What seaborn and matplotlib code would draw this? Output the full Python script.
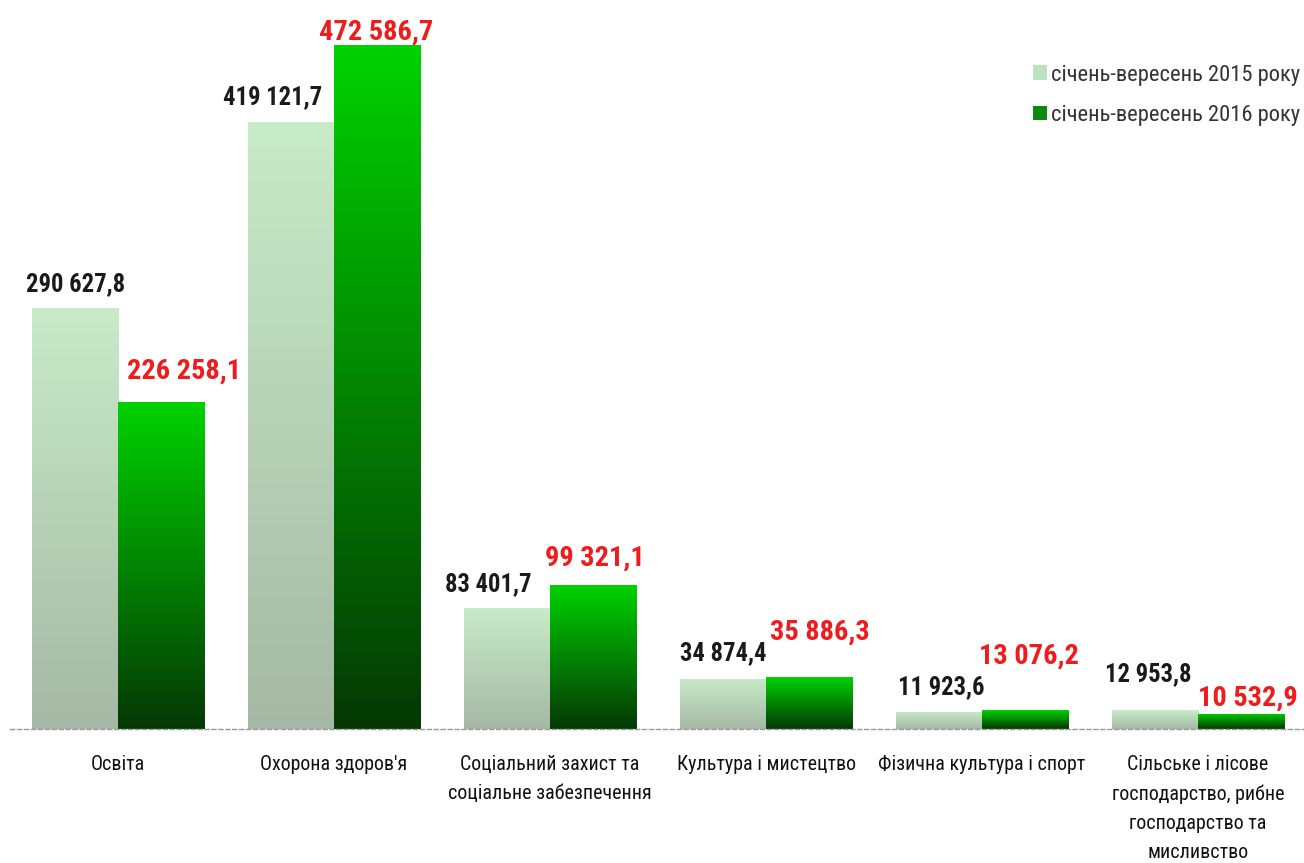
import matplotlib
matplotlib.use("Agg")
import matplotlib.pyplot as plt
import matplotlib.font_manager as fm
from matplotlib.colors import LinearSegmentedColormap
import seaborn as sns
import numpy as np
import pandas as pd

# data
categories = [
    "Освіта",
    "Охорона здоров'я",
    "Соціальний захист та\nсоціальне забезпечення",
    "Культура і мистецтво",
    "Фізична культура і спорт",
    "Сільське і лісове\nгосподарство, рибне\nгосподарство та\nмисливство",
]
periods = ["січень-вересень 2015 року", "січень-вересень 2016 року"]
values_2015 = [290627.8, 419121.7, 83401.7, 34874.4, 11923.6, 12953.8]
values_2016 = [226258.1, 472586.7, 99321.1, 35886.3, 13076.2, 10532.9]

# hand-placed label nudges (pixels: dx from bar centre, gap above bar top)
nudge_2015 = [(1, 17), (-18, 18), (-19, 17), (0, 18), (2, 18), (-7, 29)]
nudge_2016 = [(23, 23), (-1, 5), (2, 20), (11, 37), (4, 46), (7, 8)]


def fmt(v):
    s = f"{v:,.1f}"
    return s.replace(",", " ").replace(".", ",")


sns.set_style("white")

# pick a narrow face if one is around, else Liberation Sans
fonts = fm.fontManager.ttflist
names = {f.name for f in fonts}
stretch = "normal"
family = "Liberation Sans"
scale = 1.0
for cand in ["Liberation Sans Narrow", "Roboto Condensed", "Open Sans Condensed",
             "Noto Sans Condensed", "DejaVu Sans Condensed"]:
    if cand in names:
        family, scale = cand, 1.2
        break
else:
    if any(f.name == "DejaVu Sans" and f.stretch == "condensed" for f in fonts):
        family, stretch, scale = "DejaVu Sans", "condensed", 1.0
plt.rcParams["font.family"] = [family, "DejaVu Sans"]
plt.rcParams["font.stretch"] = stretch

df = pd.DataFrame({
    "category": categories * 2,
    "period": [periods[0]] * 6 + [periods[1]] * 6,
    "value": values_2015 + values_2016,
})

light_top, light_bot = "#c8ebc8", "#a5b8a5"
dark_top, dark_bot = "#00d200", "#053805"

fig = plt.figure(figsize=(13.04, 8.63), dpi=100)
ax = fig.add_axes([10 / 1304, (863 - 729) / 863, 1296 / 1304, 729 / 863])

sns.barplot(data=df, x="category", y="value", hue="period",
            palette=["#b8d8b8", "#009000"], width=0.8, ax=ax,
            saturation=1, legend=True, edgecolor="none")

ymax = max(values_2016) * 729 / 684

# gradient fill per bar
grads = [(light_top, light_bot), (dark_top, dark_bot)]
for cont, (c_top, c_bot) in zip(ax.containers, grads):
    cmap = LinearSegmentedColormap.from_list("g", [c_bot, c_top])
    for bar in cont:
        x0, y0 = bar.get_x(), bar.get_y()
        w, h = bar.get_width(), bar.get_height()
        img = ax.imshow(np.linspace(0, 1, 256).reshape(-1, 1), cmap=cmap,
                        extent=[x0, x0 + w, y0, y0 + h], origin="lower",
                        aspect="auto", zorder=2)
        img.set_clip_path(bar)
        bar.set_facecolor("none")

# value labels
for i, (v1, v2) in enumerate(zip(values_2015, values_2016)):
    dx, dy = nudge_2015[i]
    ax.annotate(fmt(v1), (i - 0.2, v1), xytext=(dx, dy), textcoords="offset pixels",
                ha="center", va="baseline", fontsize=14.8 * scale, fontweight="bold",
                color="#1a1a1a")
    dx, dy = nudge_2016[i]
    ax.annotate(fmt(v2), (i + 0.2, v2), xytext=(dx, dy), textcoords="offset pixels",
                ha="center", va="baseline", fontsize=17 * scale, fontweight="bold",
                color="#ee1c1c")

# axis styling
for s in ["top", "right", "left"]:
    ax.spines[s].set_visible(False)
ax.spines["bottom"].set_linestyle((0, (3, 2)))
ax.spines["bottom"].set_color("#9a9a9a")
ax.spines["bottom"].set_linewidth(1)
ax.set_yticks([])
ax.set_xlabel("")
ax.set_ylabel("")
ax.set_xticks(range(6))
ax.set_xticklabels(categories, fontsize=12 * scale, linespacing=1.66, va="top",
                   color="#111111")
ax.tick_params(axis="x", which="major", length=0, pad=19)
ax.set_xticks(np.arange(-0.5, 6, 1), minor=True)
ax.tick_params(axis="x", which="minor", length=7, color="#bbbbbb", width=0.8)

ax.set_xlim(-0.5, 5.5)
ax.set_ylim(0, ymax)

leg = ax.legend(loc="upper right", bbox_to_anchor=(1.006, 0.93), frameon=False,
                fontsize=13.5 * scale, handlelength=0.6, handleheight=0.6,
                handletextpad=0.2, labelspacing=0.85, borderaxespad=0.2)
leg_cols = ["#bfe0bf", "#0a8a0a"]
for h, c in zip(leg.legend_handles, leg_cols):
    h.set_facecolor(c)
    h.set_edgecolor("none")
for t in leg.get_texts():
    t.set_color("#333333")

fig.savefig("out.png", dpi=100)
